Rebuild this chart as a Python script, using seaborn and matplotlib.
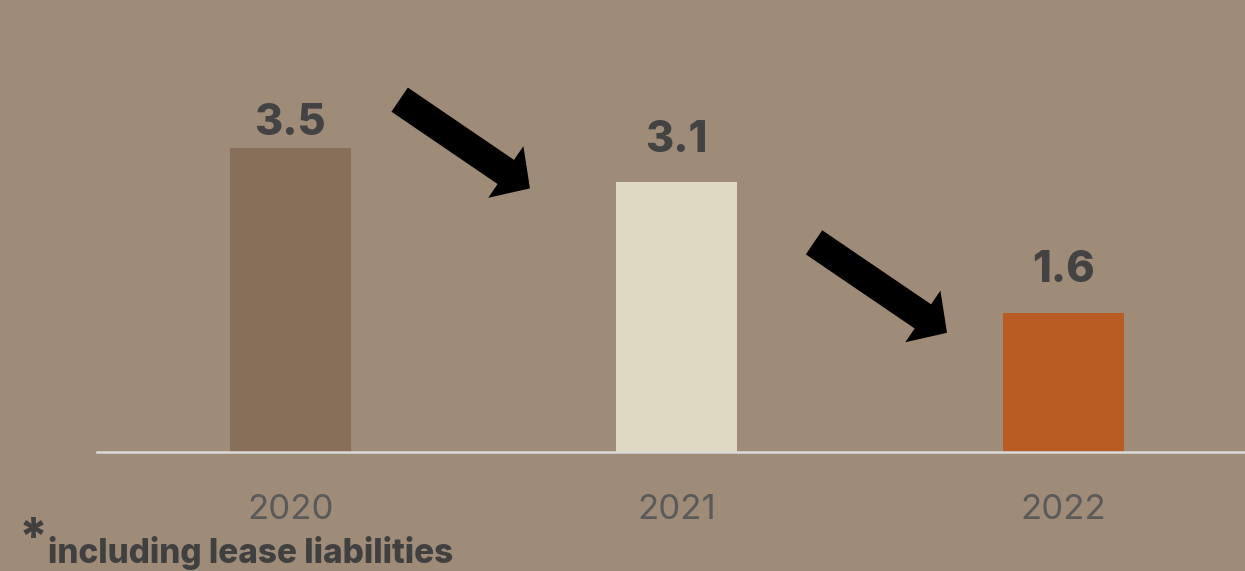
import matplotlib
matplotlib.use("Agg")
import matplotlib.pyplot as plt
from matplotlib.patches import FancyArrowPatch, ArrowStyle
import seaborn as sns
import pandas as pd

years = ["2020", "2021", "2022"]
values = [3.5, 3.1, 1.6]
labels = ["3.5", "3.1", "1.6"]
colors = ["#876F59", "#DFD8C3", "#B85C24"]
footnote = "including lease liabilities"

# layout: gap (points) between bar top and label baseline
label_gap_pt = [9, 22, 22]

BG = "#9E8B78"
sns.set_theme(style="white")
plt.rcParams["font.family"] = ["Inter", "DejaVu Sans"]

df = pd.DataFrame({"year": years, "value": values})

fig = plt.figure(figsize=(12.45, 5.71), dpi=100, facecolor=BG)
ax = fig.add_axes([97 / 1245, 119 / 571, 1 - 97 / 1245, 452 / 571])
ax.set_facecolor(BG)

sns.barplot(data=df, x="year", y="value", hue="year", palette=colors,
            width=0.313, legend=False, ax=ax, saturation=1, linewidth=0)

ax.set_xlim(-0.5, 2.47)
ax.set_ylim(0, 452 / 87)

for i, (v, lab) in enumerate(zip(values, labels)):
    ax.annotate(lab, (i, v), xytext=(0, label_gap_pt[i]), textcoords="offset points",
                ha="center", va="baseline", fontsize=31, fontweight="heavy",
                color="#434343")

for s in ["top", "right", "left"]:
    ax.spines[s].set_visible(False)
ax.spines["bottom"].set_color("#DADADA")
ax.spines["bottom"].set_linewidth(1.8)
ax.set_yticks([])
ax.set_xlabel("")
ax.set_ylabel("")
ax.tick_params(axis="x", length=0, pad=30, labelsize=25, labelcolor="#5A5A5A")
for t in ax.get_xticklabels():
    t.set_fontweight("normal")

# decorative arrows between bars (tail -> tip, data coordinates)
arrow_tails = [(0.283, 4.05), (1.355, 2.41)]
arrow_tips = [(0.620, 3.03), (1.699, 1.37)]
style = ArrowStyle.Simple(head_length=21, head_width=45, tail_width=21)
for tail, tip in zip(arrow_tails, arrow_tips):
    ax.add_patch(FancyArrowPatch(tail, tip, arrowstyle=style, mutation_scale=1,
                                 color="black", shrinkA=0, shrinkB=0, linewidth=0))

fig.text(33 / 1245, 1 - 540 / 571, "*", fontsize=36, fontweight="heavy",
         color="#404040", ha="center", va="center")
fig.text(48 / 1245, 1 - 563 / 571, footnote, fontsize=24, fontweight="heavy",
         color="#404040", ha="left", va="baseline")

fig.savefig("out.png", dpi=100, facecolor=BG)
